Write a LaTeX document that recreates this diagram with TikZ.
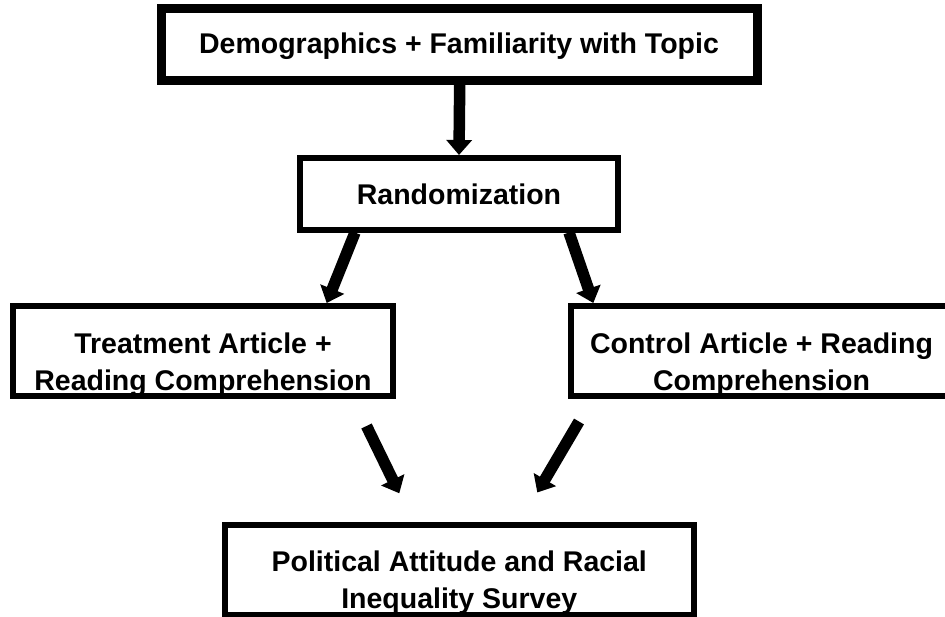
\documentclass[tikz,border=0pt]{standalone}
\usepackage{fontspec}
\setmainfont{Liberation Sans}
\usetikzlibrary{arrows.meta,calc}
\begin{document}
\begin{tikzpicture}[x=1pt,y=-1pt,
  box/.style={draw=black,line width=6pt,fill=white,inner sep=0pt,rectangle},
  topbox/.style={box,line width=8.5pt},
  txt/.style={font=\fontsize{28.5}{36.5}\selectfont\bfseries,align=center,inner sep=0pt},
  flow/.style={line width=11.5pt,black,-{Triangle[width=25pt,length=15pt]}}]
\useasboundingbox (0,0) rectangle (945,616);
\clip (0,0) rectangle (945,616);
\fill[white] (0,0) rectangle (945,616);
% boxes
\node[topbox,minimum width=596pt,minimum height=72pt] (top) at (459.7,44.4) {};
\node[box,minimum width=318pt,minimum height=71.5pt] (rand) at (459,193.75) {};
\node[box,minimum width=380pt,minimum height=89.5pt] (treat) at (203,350.75) {};
\node[box,minimum width=381pt,minimum height=89.5pt] (ctrl) at (761.5,350.75) {};
\node[box,minimum width=469.5pt,minimum height=90.5pt] (survey) at (459.25,569.75) {};
% texts (base = baseline of the last line)
\node[txt,anchor=base] (toptxt) at (459,53.5) {Demographics + Familiarity with Topic};
\node[txt,anchor=base] (randtxt) at (459,204) {Randomization};
\node[txt,anchor=base] (treattxt) at (203,390) {Treatment Article +\\Reading Comprehension};
\node[txt,anchor=base] (ctrltxt) at (761.5,390) {Control Article + Reading\\Comprehension};
\node[txt,anchor=base] (surveytxt) at (459.25,608) {Political Attitude and Racial\\Inequality Survey};
% free arrow ends
\coordinate (l1) at (366.5,426);
\coordinate (l2) at (399.3,493.3);
\coordinate (r1) at (579,421.5);
\coordinate (r2) at (537.3,492.5);
% connectors
\draw[flow] (top.south) -- (rand.north);
\draw[flow] ([xshift=-104pt]rand.south) -- ([xshift=123.7pt]treat.north);
\draw[flow] ([xshift=110pt]rand.south) -- ([xshift=-168.2pt]ctrl.north);
\draw[flow] (l1) -- (l2);
\draw[flow] (r1) -- (r2);
\end{tikzpicture}
\end{document}
